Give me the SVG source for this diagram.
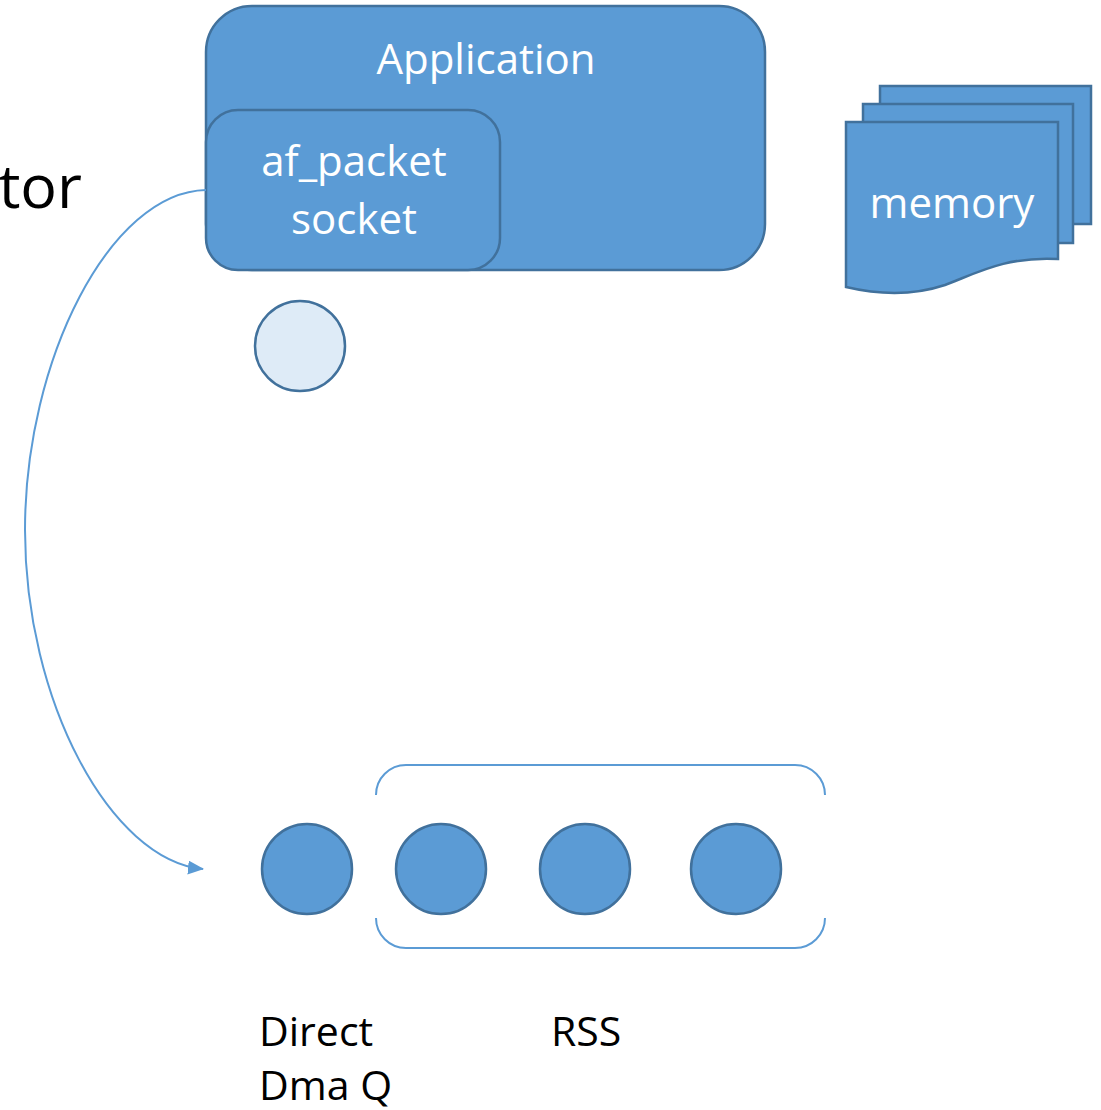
<svg xmlns="http://www.w3.org/2000/svg" width="1101" height="1110" viewBox="0 0 1101 1110">
<style>
.shape{fill:#5B9BD5;stroke:#41719C;stroke-width:2.5}
.wt{fill:#FFFFFF;font-family:"Open Sans","Liberation Sans",sans-serif;font-size:42px;text-anchor:middle}
.bt{fill:#000000;font-family:"Open Sans","Liberation Sans",sans-serif;font-size:41px}
.conn{fill:none;stroke:#5B9BD5;stroke-width:2}
</style>
<defs>
<marker id="arrow" viewBox="0 0 16 14" refX="15" refY="7" markerWidth="16" markerHeight="14" markerUnits="userSpaceOnUse" orient="auto">
<path d="M0,0 L16,7 L0,14 Z" fill="#5B9BD5"/>
</marker>
</defs>
<rect width="1101" height="1110" fill="#FFFFFF"/>
<text x="82" y="208" text-anchor="end" style="font-family:'Open Sans','Liberation Sans',sans-serif;font-size:61px;fill:#000">tor</text>
<g id="application">
<rect class="shape" x="206" y="6" width="559" height="264" rx="46"/>
<text class="wt" x="486" y="74">Application</text>
</g>
<g id="af_packet_socket">
<rect class="shape" x="206" y="110" width="294" height="160" rx="32"/>
<text class="wt" x="354" y="176">af_packet</text>
<text class="wt" x="354" y="234">socket</text>
</g>
<g id="small_circle">
<circle cx="300" cy="346" r="45" fill="#DEEBF7" stroke="#41719C" stroke-width="2.5"/>
</g>
<g id="memory">
<rect class="shape" x="880" y="86" width="211" height="138"/>
<rect class="shape" x="863" y="104" width="210" height="139"/>
<path class="shape" d="M846,122 H1058 V259 C1005,256 975,274 945,285 C915,295 880,295 846,287 Z"/>
<text class="wt" x="952" y="218">memory</text>
</g>
<g id="rss_bracket">
<path class="conn" stroke-width="1.5" d="M376,795 A30,30 0 0 1 406,765 H795 A30,30 0 0 1 825,795"/>
<path class="conn" stroke-width="1.5" d="M376,918 A30,30 0 0 0 406,948 H795 A30,30 0 0 0 825,918"/>
</g>
<g id="direct_q">
<circle class="shape" cx="307" cy="869" r="45"/>
</g>
<g id="rss_q1"><circle class="shape" cx="441" cy="869" r="45"/></g>
<g id="rss_q2"><circle class="shape" cx="585" cy="869" r="45"/></g>
<g id="rss_q3"><circle class="shape" cx="736" cy="869" r="45"/></g>
<g id="labels">
<text class="bt" x="259" y="1046">Direct</text>
<text class="bt" x="259" y="1100">Dma Q</text>
<text class="bt" x="551" y="1046">RSS</text>
</g>
<g id="connectors">
<path class="conn" d="M206,190 C110,192 25,360 25,530 C25,700 110,860 203,869" marker-end="url(#arrow)"/>
</g>
</svg>
